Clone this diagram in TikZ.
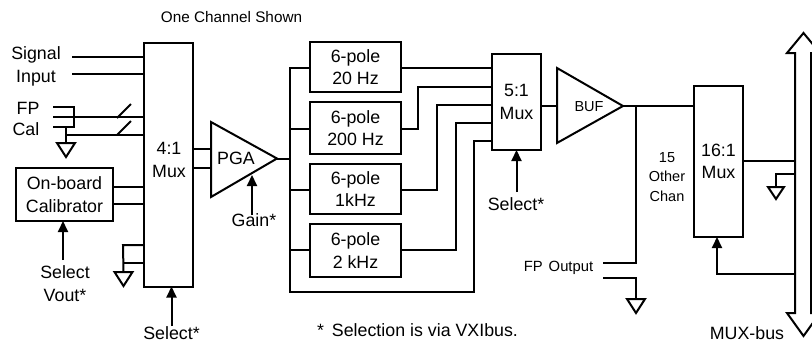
\documentclass[tikz,border=0pt]{standalone}
\usepackage{fontspec}
\setmainfont{Liberation Sans}
\usetikzlibrary{arrows.meta,calc}
\newcommand{\gndsym}[1]{\draw[wire,line join=miter] ($(#1)+(-9,0)$) -- ($(#1)+(9,0)$) -- ($(#1)+(0,14)$) -- cycle;}
\tikzset{
  x=1pt,y=-1pt,
  wire/.style={line width=2pt,black},
  sel/.style={wire,-{Triangle[length=11pt,width=10pt]}},
  blk/.style={draw,line width=2pt,rectangle,inner sep=0pt,outer sep=0pt,align=center,font=\fontsize{17.8}{22.5}\selectfont},
  big/.style={inner sep=0pt,align=center,font=\fontsize{17.8}{23}\selectfont},
  small/.style={inner sep=0pt,align=center,font=\fontsize{14.5}{19.5}\selectfont},
}
\begin{document}
\begin{tikzpicture}
\useasboundingbox (0,0) rectangle (812,343);
% blocks
\node[blk,minimum width=49pt,minimum height=244pt] (muxA) at (168.5,164.5) {};
\node[big] (muxAt) at (169,160) {4:1\\Mux};
\node[blk,minimum width=97pt,minimum height=53pt] (cal) at (64.5,194.5) {On-board\\Calibrator};
\node[blk,minimum width=91pt,minimum height=50pt] (f1) at (355.5,67) {6-pole\\20 Hz};
\node[blk,minimum width=91pt,minimum height=52pt] (f2) at (355.5,128) {6-pole\\200 Hz};
\node[blk,minimum width=91pt,minimum height=50pt] (f3) at (355.5,189) {6-pole\\1kHz};
\node[blk,minimum width=91pt,minimum height=53pt] (f4) at (355.5,250.5) {6-pole\\2 kHz};
\node[blk,minimum width=49pt,minimum height=96pt] (muxB) at (516.5,102) {5:1\\Mux};
\node[blk,minimum width=49pt,minimum height=151pt] (muxC) at (718.5,161.5) {16:1\\Mux};
% triangles (amplifiers)
\coordinate (pgaTop) at (211,122);
\coordinate (pgaOut) at (277,158.5);
\coordinate (pgaBot) at (211,197);
\draw[wire,line join=miter] (pgaTop) -- (pgaOut) -- (pgaBot) -- cycle;
\node[big] (pga) at (236,158) {PGA};
\coordinate (bufTop) at (557,68);
\coordinate (bufOut) at (623,106);
\coordinate (bufBot) at (557,143);
\draw[wire,line join=miter] (bufTop) -- (bufOut) -- (bufBot) -- cycle;
\node[small] (buf) at (589,107) {BUF};
% texts
\node[font=\fontsize{15.3}{18}\selectfont,inner sep=0pt] (title) at (231.5,17) {One Channel Shown};
\node[big] (tsig) at (36,55) {Signal};
\node[big] (tinp) at (36,78) {Input};
\node[big] (tfp) at (28,108) {FP};
\node[big] (tcal) at (26,129) {Cal};
\node[big] (tselv) at (65,272) {Select};
\node[big] (tvout) at (65,295) {Vout*};
\node[big] (tselA) at (171.5,333.5) {Select*};
\node[big] (tgain) at (254,220) {Gain*};
\node[big] (tselB) at (516,204) {Select*};
\node[font=\fontsize{14.8}{18}\selectfont,inner sep=0pt] (tfpo) at (558.5,268) {FP\hspace{6pt}Output};
\node[small] (tother) at (667,177) {15\\Other\\Chan};
\node[font=\fontsize{17.8}{20}\selectfont,inner sep=0pt] (tnote) at (417.5,330) {*\hspace{8pt}Selection is via VXIbus.};
\node[big] (tbus) at (747,333) {MUX-bus};
% signal inputs
\coordinate (sa) at (72,57);
\coordinate (sb) at (72,74);
\draw[wire] (sa) -- (sa -| muxA.west);
\draw[wire] (sb) -- (sb -| muxA.west);
% FP / Cal
\coordinate (fa) at (53,107);
\coordinate (fb) at (53,117);
\coordinate (fc) at (53,127);
\coordinate (fj) at (74,107);
\coordinate (gn) at (66,135);
\coordinate (gA) at (66,143);
\draw[wire,line join=miter] (fa) -- (fj) -- (fj |- fc) -- (fc);
\draw[wire] (fb) -- (fb -| muxA.west);
\draw[wire] (gn |- fc) -- (gA);
\draw[wire] (gn) -- (gn -| muxA.west);
\gndsym{gA}
\coordinate (s1a) at (117,118);
\coordinate (s1b) at (131,104);
\coordinate (s2a) at (117,135);
\coordinate (s2b) at (131,121);
\draw[wire] (s1a) -- (s1b);
\draw[wire] (s2a) -- (s2b);
% calibrator
\coordinate (ca) at (113,187);
\coordinate (cb) at (113,204);
\draw[wire] (ca) -- (ca -| muxA.west);
\draw[wire] (cb) -- (cb -| muxA.west);
\coordinate (cs) at (63,260);
\draw[sel] (cs) -- (cs |- cal.south);
% mux A ground
\coordinate (ma) at (123,245);
\coordinate (mb) at (123,263);
\coordinate (gB) at (123.5,272);
\draw[wire,line join=miter] (ma -| muxA.west) -- (ma) -- (gB);
\draw[wire] (mb) -- (mb -| muxA.west);
\gndsym{gB}
\coordinate (ms) at (171.5,326);
\draw[sel] (ms) -- (ms |- muxA.south);
% mux to PGA
\coordinate (pa) at (211,149);
\coordinate (pb) at (211,168);
\draw[wire] (pa -| muxA.east) -- (pa);
\draw[wire] (pb -| muxA.east) -- (pb);
\coordinate (ps) at (252,215);
\coordinate (pt) at (252,175);
\draw[sel] (ps) -- (pt);
% filter bank
\coordinate (bt) at (290,68);
\coordinate (bb) at (290,292);
\coordinate (bn) at (474,292);
\coordinate (bi) at (474,141);
\draw[wire,line join=miter] (bt -| f1.west) -- (bt) -- (bb) -- (bn) -- (bi) -- (bi -| muxB.west);
\draw[wire] (pgaOut) -- (pgaOut -| bt);
\coordinate (b2) at (290,129);
\coordinate (b3) at (290,190);
\coordinate (b4) at (290,250);
\draw[wire] (b2) -- (b2 -| f2.west);
\draw[wire] (b3) -- (b3 -| f3.west);
\draw[wire] (b4) -- (b4 -| f4.west);
% filters to mux B
\draw[wire] (bt -| f1.east) -- (bt -| muxB.west);
\coordinate (k2) at (418,87);
\coordinate (k3) at (437,105);
\coordinate (k4) at (456,123);
\draw[wire,line join=miter] (b2 -| f2.east) -- (b2 -| k2) -- (k2) -- (k2 -| muxB.west);
\draw[wire,line join=miter] (b3 -| f3.east) -- (b3 -| k3) -- (k3) -- (k3 -| muxB.west);
\draw[wire,line join=miter] (b4 -| f4.east) -- (b4 -| k4) -- (k4) -- (k4 -| muxB.west);
\coordinate (bs) at (516.5,192);
\draw[sel] (bs) -- (bs |- muxB.south);
% buffer
\draw[wire] (bufOut -| muxB.east) -- (bufOut -| bufTop);
\draw[wire] (bufOut) -- (bufOut -| muxC.west);
\coordinate (oj) at (636,106);
\coordinate (oa) at (603,263);
\coordinate (ob) at (603,278);
\coordinate (gC) at (636,299);
\draw[wire,line join=miter] (oj) -- (oj |- oa) -- (oa);
\draw[wire,line join=miter] (ob) -- (ob -| gC) -- (gC);
\gndsym{gC}
% bus
\coordinate (btop) at (803.5,33);
\coordinate (bbot) at (803.5,336);
\coordinate (blt) at (795,53);
\coordinate (blb) at (795,313);
\coordinate (brt) at (811,53);
\coordinate (brb) at (811,313);
\draw[wire,line join=miter] (blb) -- (blt) -- (787,53) -- (btop) -- (820,53) -- (brt) -- (brb) -- (820,313) -- (bbot) -- (787,313) -- cycle;
% mux C to bus
\coordinate (m1) at (743,161);
\coordinate (gk) at (776,174);
\coordinate (gD) at (776,187);
\coordinate (ret) at (717,274);
\draw[wire] (m1) -- (m1 -| blt);
\draw[wire,line join=miter] (gk -| blt) -- (gk) -- (gD);
\draw[wire,line join=miter] (gD)+(-8,0) -- +(8,0) -- +(0,12) -- cycle;
\draw[sel,line join=miter] (ret -| blt) -- (ret) -- (ret |- muxC.south);
\end{tikzpicture}
\end{document}
